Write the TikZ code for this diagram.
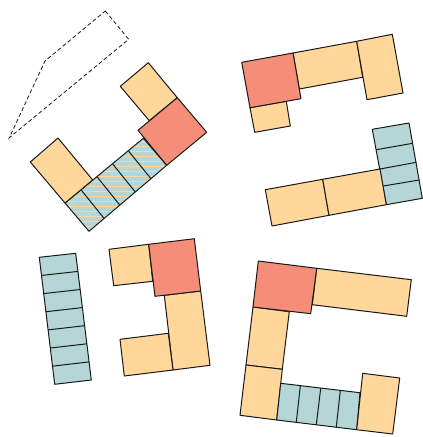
\documentclass[tikz,border=0pt]{standalone}
\definecolor{cor}{HTML}{FFD79B}
\definecolor{cre}{HTML}{F68D78}
\definecolor{cbl}{HTML}{B4D6D6}
\tikzset{
  px/.style={x=1pt,y=-1pt},
  room/.style={draw=black!90,line width=1pt,line join=round},
  orange/.style={room,fill=cor},
  redroom/.style={room,fill=cre},
  blueroom/.style={room,fill=cbl},
  outline/.style={draw=black!90,line width=0.8pt,dash pattern=on 4pt off 2.5pt},
  stripe/.style={draw=cor,line width=1pt},
}
\begin{document}
\begin{tikzpicture}[px]
\useasboundingbox (0,0) rectangle (423,437);
% top-left group
\draw[outline] (105.3,11) -- (128.7,39.3) -- (9.3,137.7) -- (45,61) -- cycle;
\begin{scope}
\clip (65,203) -- (143.3,138.3) -- (166.7,165.3) -- (89,231.3) -- cycle;
\fill[cbl] (60,135) rectangle (170,235);
\foreach \k in {0,...,20} \draw[stripe] (60,136.5+5*\k) -- (170,136.5+5*\k);
\end{scope}
\draw[room] (65,203) -- (143.3,138.3) -- (166.7,165.3) -- (89,231.3) -- cycle;
\draw[room] (81,189.7) -- (104.3,218.7);
\draw[room] (97,176.7) -- (119.7,205);
\draw[room] (112.7,164) -- (135.3,192);
\draw[room] (128.3,150.7) -- (151,178.7);
\draw[orange] (148.3,62.7) -- (177.3,97.7) -- (149.3,120.7) -- (120.3,86.3) -- cycle;
\draw[orange] (58,138) -- (92.7,180) -- (65,203) -- (30.3,162) -- cycle;
\draw[redroom] (177.3,97.7) -- (206.7,132.3) -- (166.7,165.3) -- (138,130.3) -- cycle;
% top-right group
\draw[orange] (250,107.7) -- (286.3,101.3) -- (290.3,126) -- (254.7,132.3) -- cycle;
\draw[orange] (293,53) -- (356.7,41.3) -- (362.7,77.3) -- (299.3,89) -- cycle;
\draw[orange] (356.7,41.3) -- (392.3,34.3) -- (403,93) -- (367,99.7) -- cycle;
\draw[redroom] (241.7,62.3) -- (293,53) -- (301,98.7) -- (250,107.7) -- cycle;
% right-middle group
\draw[blueroom] (372.3,129.3) -- (409,123) -- (422.3,198.3) -- (386.3,204.7) -- cycle;
\draw[room] (376.3,149.7) -- (412.7,143.3);
\draw[room] (380,169) -- (416.3,162.3);
\draw[room] (383.3,186) -- (419.3,180);
\draw[orange] (265.3,189.7) -- (322.7,179.3) -- (329,215.3) -- (272,226) -- cycle;
\draw[orange] (322.7,179.3) -- (380,169) -- (386.3,204.7) -- (329,215.3) -- cycle;
% left strip
\draw[blueroom] (39.3,257.3) -- (75.7,253.3) -- (91.3,380) -- (54.7,384.3) -- cycle;
\foreach \t in {1,...,6}
  \draw[room] ({39.3+\t/7*15.4},{257.3+\t/7*127}) -- ({75.7+\t/7*15.6},{253.3+\t/7*126.7});
% centre group
\draw[orange] (109,249.3) -- (148.7,244.3) -- (152.7,281.3) -- (113.7,285.7) -- cycle;
\draw[orange] (164.3,295.3) -- (200.7,291) -- (210,365.3) -- (173,370) -- cycle;
\draw[orange] (120,339.3) -- (168.3,333.3) -- (173,370) -- (124.3,376) -- cycle;
\draw[redroom] (148.7,244.3) -- (194.3,238.7) -- (200.7,291) -- (155,296.3) -- cycle;
% bottom-right group
\draw[orange] (316.7,268.3) -- (411.3,279.7) -- (406.7,316.3) -- (312.3,304.7) -- cycle;
\draw[orange] (253,307) -- (289.3,311.7) -- (282.3,369.3) -- (246,365) -- cycle;
\draw[orange] (246,365) -- (282.3,369.3) -- (276.7,420) -- (240,415.3) -- cycle;
\draw[redroom] (258.3,261) -- (316.7,268.3) -- (310.7,313.7) -- (253,307) -- cycle;
\draw[blueroom] (280.7,383.3) -- (360,392.7) -- (356.7,429.7) -- (276.7,420) -- cycle;
\draw[room] (300.3,386) -- (296.3,422.3);
\draw[room] (320.7,388.3) -- (316.3,424.7);
\draw[room] (340.3,390.7) -- (336.3,427);
\draw[orange] (362.7,373.3) -- (399.7,378) -- (392.7,434) -- (356.7,429.7) -- cycle;
\end{tikzpicture}
\end{document}
